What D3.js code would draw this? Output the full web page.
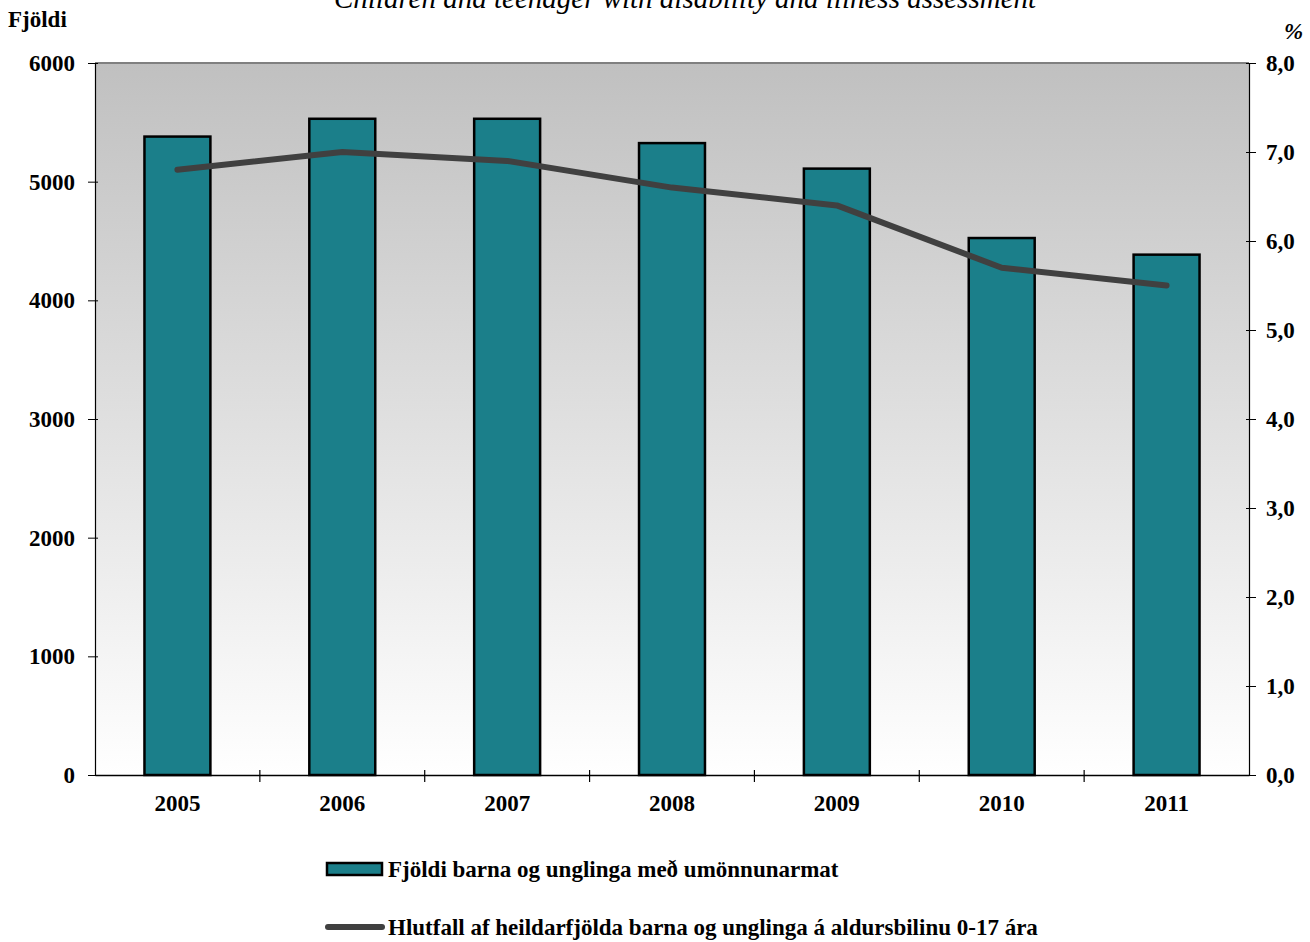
<!DOCTYPE html>
<html><head><meta charset="utf-8">
<script src="https://cdn.jsdelivr.net/npm/d3@7"></script>
<style>body{margin:0;background:#fff}svg{display:block}text{font-family:"Liberation Serif","Times New Roman",serif}</style>
</head><body>
<svg id="c" width="1310" height="942"></svg>
<script>
const years = ["2005","2006","2007","2008","2009","2010","2011"];
const counts = [5380, 5530, 5530, 5325, 5110, 4525, 4385];
const percents = [6.8, 7.0, 6.9, 6.6, 6.4, 5.7, 5.5];
const leftTicks = [0,1000,2000,3000,4000,5000,6000];
const rightTicks = [0,1,2,3,4,5,6,7,8];
const title = "Children and teenager with disability and illness assessment";
const barLabel = "Fjöldi barna og unglinga með umönnunarmat";
const lineLabel = "Hlutfall af heildarfjölda barna og unglinga á aldursbilinu 0-17 ára";

const svg = d3.select("#c");
const L=95, R=1249, T=63, B=775;
const FS = 23;
const x = d3.scaleBand().domain(years).range([L,R]).paddingInner(0.6).paddingOuter(0.3);
const yL = d3.scaleLinear().domain([0,6000]).range([B,T]);
const yR = d3.scaleLinear().domain([0,8]).range([B,T]);

const defs = svg.append("defs");
const g = defs.append("linearGradient").attr("id","bg").attr("x1",0).attr("y1",0).attr("x2",0).attr("y2",1);
g.append("stop").attr("offset","0%").attr("stop-color","#c0c0c0");
g.append("stop").attr("offset","100%").attr("stop-color","#ffffff");
svg.append("rect").attr("x",L).attr("y",T).attr("width",R-L).attr("height",B-T).attr("fill","url(#bg)");
svg.append("line").attr("x1",L).attr("x2",R).attr("y1",T).attr("y2",T).attr("stroke","#808080").attr("stroke-width",2);

// bars
svg.append("g").selectAll("rect").data(counts).join("rect")
  .attr("x",(d,i)=>x(years[i])).attr("width",x.bandwidth())
  .attr("y",d=>yL(d)).attr("height",d=>B-yL(d))
  .attr("fill","#1b7f8a").attr("stroke","#000").attr("stroke-width",2.5);

// line
const line = d3.line().x((d,i)=>x(years[i])+x.bandwidth()/2).y(d=>yR(d));
svg.append("path").datum(percents).attr("d",line).attr("fill","none")
  .attr("stroke","#404040").attr("stroke-width",6).attr("stroke-linecap","round").attr("stroke-linejoin","round");

function styleText(sel){ sel.selectAll("text").attr("font-size",FS).attr("font-weight","bold").attr("fill","#000").attr("font-family","Liberation Serif"); }

// axes
const la = svg.append("g").attr("transform",`translate(${L},0)`)
  .call(d3.axisLeft(yL).tickValues(leftTicks).tickSize(7).tickPadding(13).tickFormat(d3.format("d")));
styleText(la);
la.select(".domain").attr("stroke","#000").attr("stroke-width",1.2);
la.selectAll(".tick line").attr("stroke","#000").attr("x2",-7).attr("x1",3);

const ra = svg.append("g").attr("transform",`translate(${R},0)`)
  .call(d3.axisRight(yR).tickValues(rightTicks).tickSize(7).tickPadding(10).tickFormat(d=>d3.format(".1f")(d).replace(".",",")));
styleText(ra);
ra.select(".domain").attr("stroke","#000").attr("stroke-width",1.2);
ra.selectAll(".tick line").attr("stroke","#000").attr("x1",-3);

const xa = svg.append("g").attr("transform",`translate(0,${B})`)
  .call(d3.axisBottom(x).tickSize(0).tickPadding(20));
xa.select(".domain").attr("stroke","#000").attr("stroke-width",1.5);
styleText(xa);
// category boundary ticks
const step = x.step();
const bounds = d3.range(1, years.length).map(i=>x(years[i]) - (step - x.bandwidth())/2);
svg.append("g").selectAll("line").data(bounds).join("line")
  .attr("x1",d=>d).attr("x2",d=>d).attr("y1",B-5).attr("y2",B+7).attr("stroke","#000").attr("stroke-width",1.2);

// titles
svg.append("text").attr("x",685).attr("y",8).attr("text-anchor","middle").attr("font-size",29)
  .attr("font-style","italic").text(title);
svg.append("text").attr("x",8).attr("y",27).attr("font-size",FS).attr("font-weight","bold").text("Fjöldi");
svg.append("text").attr("x",1284).attr("y",39).attr("font-size",FS).attr("font-weight","bold").attr("font-style","italic").text("%");

// legend
const lg = svg.append("g");
lg.append("rect").attr("x",327).attr("y",863).attr("width",55).attr("height",12)
  .attr("fill","#1b7f8a").attr("stroke","#000").attr("stroke-width",2.5);
lg.append("text").attr("x",388).attr("y",877).attr("font-size",FS).attr("font-weight","bold").text(barLabel);
lg.append("line").attr("x1",328).attr("x2",382).attr("y1",927).attr("y2",927)
  .attr("stroke","#404040").attr("stroke-width",6).attr("stroke-linecap","round");
lg.append("text").attr("x",388).attr("y",935).attr("font-size",FS).attr("font-weight","bold").text(lineLabel);
</script>
</body></html>
